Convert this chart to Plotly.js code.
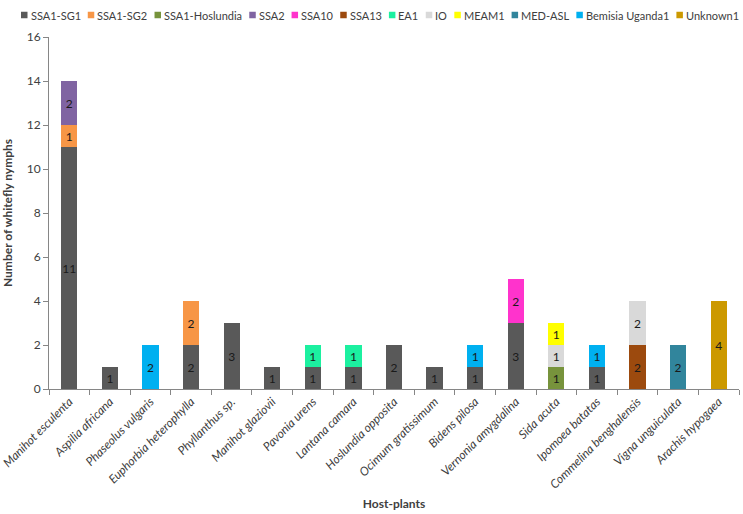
<!DOCTYPE html>
<html>
<head>
<meta charset="utf-8">
<script src="https://cdn.plot.ly/plotly-3.0.1.min.js"></script>
<style>html,body{margin:0;padding:0;background:#fff;}#chart{width:743px;height:514px;}</style>
</head>
<body>
<div id="chart"></div>
<script>
var hostPlants = ["Manihot esculenta","Aspilia africana","Phaseolus vulgaris","Euphorbia heterophylla","Phyllanthus sp.","Manihot glaziovii","Pavonia urens","Lantana camara","Hoslundia opposita","Ocimum gratissimum","Bidens pilosa","Vernonia amygdalina","Sida acuta","Ipomoea batatas","Commelina benghalensis","Vigna unguiculata","Arachis hypogaea"];

var seriesNames = ["SSA1-SG1","SSA1-SG2","SSA1-Hoslundia","SSA2","SSA10","SSA13","EA1","IO","MEAM1","MED-ASL","Bemisia Uganda1","Unknown1"];

var ssa1sg1    = [11,1,0,2,3,1,1,1,2,1,1,3,0,1,0,0,0];
var ssa1sg2    = [1,0,0,2,0,0,0,0,0,0,0,0,0,0,0,0,0];
var ssa1hosl   = [0,0,0,0,0,0,0,0,0,0,0,0,1,0,0,0,0];
var ssa2       = [2,0,0,0,0,0,0,0,0,0,0,0,0,0,0,0,0];
var ssa10      = [0,0,0,0,0,0,0,0,0,0,0,2,0,0,0,0,0];
var ssa13      = [0,0,0,0,0,0,0,0,0,0,0,0,0,0,2,0,0];
var ea1        = [0,0,0,0,0,0,1,1,0,0,0,0,0,0,0,0,0];
var io         = [0,0,0,0,0,0,0,0,0,0,0,0,1,0,2,0,0];
var meam1      = [0,0,0,0,0,0,0,0,0,0,0,0,1,0,0,0,0];
var medasl     = [0,0,0,0,0,0,0,0,0,0,0,0,0,0,0,2,0];
var uganda1    = [0,0,2,0,0,0,0,0,0,0,1,0,0,1,0,0,0];
var unknown1   = [0,0,0,0,0,0,0,0,0,0,0,0,0,0,0,0,4];

var seriesValues = [ssa1sg1, ssa1sg2, ssa1hosl, ssa2, ssa10, ssa13, ea1, io, meam1, medasl, uganda1, unknown1];
var seriesColors = ["#595959","#F79646","#77933C","#8064A2","#FF33CC","#9C4A0E","#1CF0A0","#D9D9D9","#FFFF00","#31859C","#00B0F0","#CC9900"];

var FONT = "Lato, 'Open Sans', sans-serif";
var W = 743, H = 514;
var M = {l: 49, r: 4, t: 37, b: 125};
var plotW = W - M.l - M.r, plotH = H - M.t - M.b;

var traces = seriesNames.map(function(name, i) {
  var vals = seriesValues[i];
  return {
    type: "bar",
    name: name,
    x: hostPlants,
    y: vals.map(function(v){ return v === 0 ? null : v; }),
    text: vals.map(function(v){ return v === 0 ? "" : String(v); }),
    textposition: "inside",
    insidetextanchor: "middle",
    textangle: 0,
    constraintext: "none",
    textfont: {family: FONT, size: 12, color: "#1a1a1a"},
    marker: {color: seriesColors[i], line: {width: 0}},
    showlegend: false,
    hoverinfo: "x+y+name"
  };
});

// compact one-row legend (swatch + label) spread between x=21 and x=740 px, like the original
var legendFontSize = 11;
var ctx = document.createElement("canvas").getContext("2d");
ctx.font = legendFontSize + "px Lato";
var sq = 6.5, sqGap = 3, legStart = 21, legEnd = 739;
var widths = seriesNames.map(function(n){ return ctx.measureText(n).width; });
var used = widths.reduce(function(a, w){ return a + w + sq + sqGap; }, 0);
var gap = (legEnd - legStart - used) / (seriesNames.length - 1);
var shapes = [], annotations = [];
var legendYpx = 15;
var ly = 1 + (M.t - legendYpx) / plotH;
var cursor = legStart;
seriesNames.forEach(function(name, i) {
  var x0 = cursor;
  shapes.push({
    type: "rect", xref: "paper", yref: "paper", layer: "above",
    x0: (x0 - M.l) / plotW, x1: (x0 + sq - M.l) / plotW,
    y0: ly - (sq / 2) / plotH, y1: ly + (sq / 2) / plotH,
    fillcolor: seriesColors[i], line: {width: 0}
  });
  annotations.push({
    xref: "paper", yref: "paper", x: (x0 + sq + sqGap - M.l) / plotW, y: ly,
    xanchor: "left", yanchor: "middle", showarrow: false, borderpad: 0, borderwidth: 0,
    text: name, font: {family: FONT, size: legendFontSize, color: "#404040"}
  });
  cursor = x0 + sq + sqGap + widths[i] + gap;
});

var layout = {
  width: W, height: H,
  margin: M,
  paper_bgcolor: "#ffffff",
  plot_bgcolor: "#ffffff",
  barmode: "stack",
  bargap: 0.6,
  font: {family: FONT, size: 12, color: "#404040"},
  showlegend: false,
  shapes: shapes,
  annotations: annotations,
  xaxis: {
    type: "category",
    tickvals: hostPlants,
    ticktext: hostPlants.map(function(h){ return "<i>" + h + "</i>"; }),
    tickangle: -45,
    tickson: "boundaries",
    ticks: "outside",
    ticklen: 5,
    tickcolor: "#868686",
    showline: true,
    linecolor: "#868686",
    linewidth: 1,
    showgrid: false,
    zeroline: false,
    tickfont: {family: FONT, size: 12, color: "#404040"},
    title: {text: "<b>Host-plants</b>", font: {family: FONT, size: 12, color: "#404040"}, standoff: 8}
  },
  yaxis: {
    range: [0, 16],
    dtick: 2,
    ticks: "outside",
    ticklen: 5,
    tickcolor: "#868686",
    showline: true,
    linecolor: "#868686",
    linewidth: 1,
    showgrid: false,
    zeroline: false,
    tickfont: {family: FONT, size: 12, color: "#404040"},
    title: {text: "<b>Number of whitefly nymphs</b>", font: {family: FONT, size: 12, color: "#404040"}, standoff: 11}
  }
};

Plotly.newPlot("chart", traces, layout, {staticPlot: true, displayModeBar: false});
</script>
</body>
</html>
